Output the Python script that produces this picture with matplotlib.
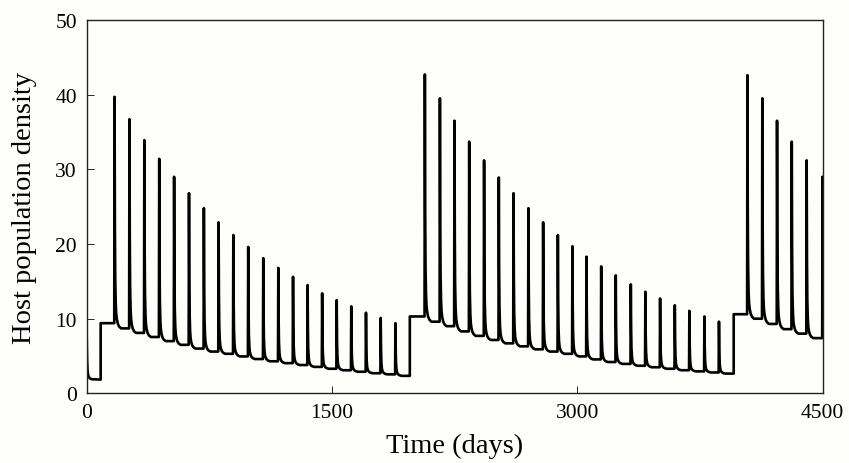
import matplotlib.pyplot as plt

# Host population density vs time: three cycles of decaying spikes
# values (days, density)

# initial transient before the first step
start_days = [0, 3, 6, 10, 18, 30, 86]
start_vals = [8.6, 4.5, 3.0, 2.4, 2.05, 1.9, 1.85]

# step-up events (day, level after the step)
step_days = [86, 1976, 3956]
step_levels = [9.4, 10.3, 10.6]

# cycle 1
c1_days = [169, 260, 351, 442, 533, 624, 715, 805, 895, 986,
           1078, 1170, 1260, 1349, 1438, 1527, 1616, 1706, 1796, 1886]
c1_peaks = [39.7, 36.7, 33.9, 31.4, 29.0, 26.8, 24.8, 22.9, 21.2, 19.6,
            18.1, 16.8, 15.6, 14.5, 13.4, 12.5, 11.65, 10.8, 10.1, 9.4]
c1_bases = [9.4, 8.7, 8.1, 7.55, 7.0, 6.5, 6.0, 5.6, 5.3, 4.95,
            4.6, 4.3, 4.05, 3.8, 3.55, 3.3, 3.1, 2.9, 2.7, 2.55]
c1_end = 2.35

# cycle 2
c2_days = [2066, 2158, 2247, 2337, 2428, 2518, 2608, 2699, 2789, 2879,
           2968, 3054, 3144, 3233, 3325, 3414, 3504, 3594, 3683, 3775, 3864]
c2_peaks = [42.7, 39.5, 36.5, 33.7, 31.2, 28.9, 26.8, 24.8, 22.9, 21.2,
            19.7, 18.3, 17.0, 15.8, 14.6, 13.6, 12.7, 11.8, 11.05, 10.3, 9.6]
c2_bases = [10.3, 9.6, 9.0, 8.3, 7.7, 7.15, 6.7, 6.3, 5.9, 5.6,
            5.3, 4.95, 4.55, 4.2, 3.95, 3.7, 3.5, 3.3, 3.1, 2.95, 2.8]
c2_end = 2.65

# cycle 3 (last spike cut by the axis edge)
c3_days = [4038, 4129, 4219, 4309, 4400, 4497]
c3_peaks = [42.6, 39.5, 36.5, 33.7, 31.2, 29.0]
c3_bases = [10.6, 10.0, 9.3, 8.6, 8.0, 7.4]
c3_end = 6.9

# spike decay shape: days after the peak, share of the excess left
decay_days = [0, 2, 4, 7, 10, 14, 20, 28, 40]
decay_frac = [1.0, 0.45, 0.22, 0.11, 0.065, 0.04, 0.02, 0.008, 0.0]

cycles = [(c1_days, c1_peaks, c1_bases, c1_end),
          (c2_days, c2_peaks, c2_bases, c2_end),
          (c3_days, c3_peaks, c3_bases, c3_end)]

t = list(start_days)
y = list(start_vals)
prev = start_vals[-1]
for k, (days, peaks, bases, end) in enumerate(cycles):
    t += [step_days[k], step_days[k]]
    y += [prev, step_levels[k]]
    for i, d in enumerate(days):
        nxt = bases[i + 1] if i + 1 < len(bases) else end
        t += [d, d + 2]
        y += [bases[i], peaks[i]]
        for dd, f in zip(decay_days[1:], decay_frac[1:]):
            t.append(d + 2 + dd)
            y.append(nxt + f * (peaks[i] - nxt))
    prev = end

plt.rcParams["font.family"] = ["Liberation Serif", "DejaVu Serif"]

fig = plt.figure(figsize=(8.49, 4.64), dpi=100, facecolor="#fefefb")
ax = fig.add_axes([0.102, 0.150, 0.867, 0.805], facecolor="#fefefb")
ax.plot(t, y, color="black", linewidth=1.9, solid_joinstyle="round")

ax.set_xlim(0, 4500)
ax.set_ylim(0, 50)
ax.set_xticks([0, 1500, 3000, 4500])
ax.set_yticks([0, 10, 20, 30, 40, 50])
ax.tick_params(direction="in", length=5, width=0.6, labelsize=15.5, pad=7)
for s in ax.spines.values():
    s.set_linewidth(1.0)
    s.set_color("#222222")

ax.set_xlabel("Time (days)", fontsize=20.5, labelpad=8)
ax.set_ylabel("Host population density", fontsize=20.5, labelpad=13)

fig.savefig("out.png", dpi=100, facecolor=fig.get_facecolor())
